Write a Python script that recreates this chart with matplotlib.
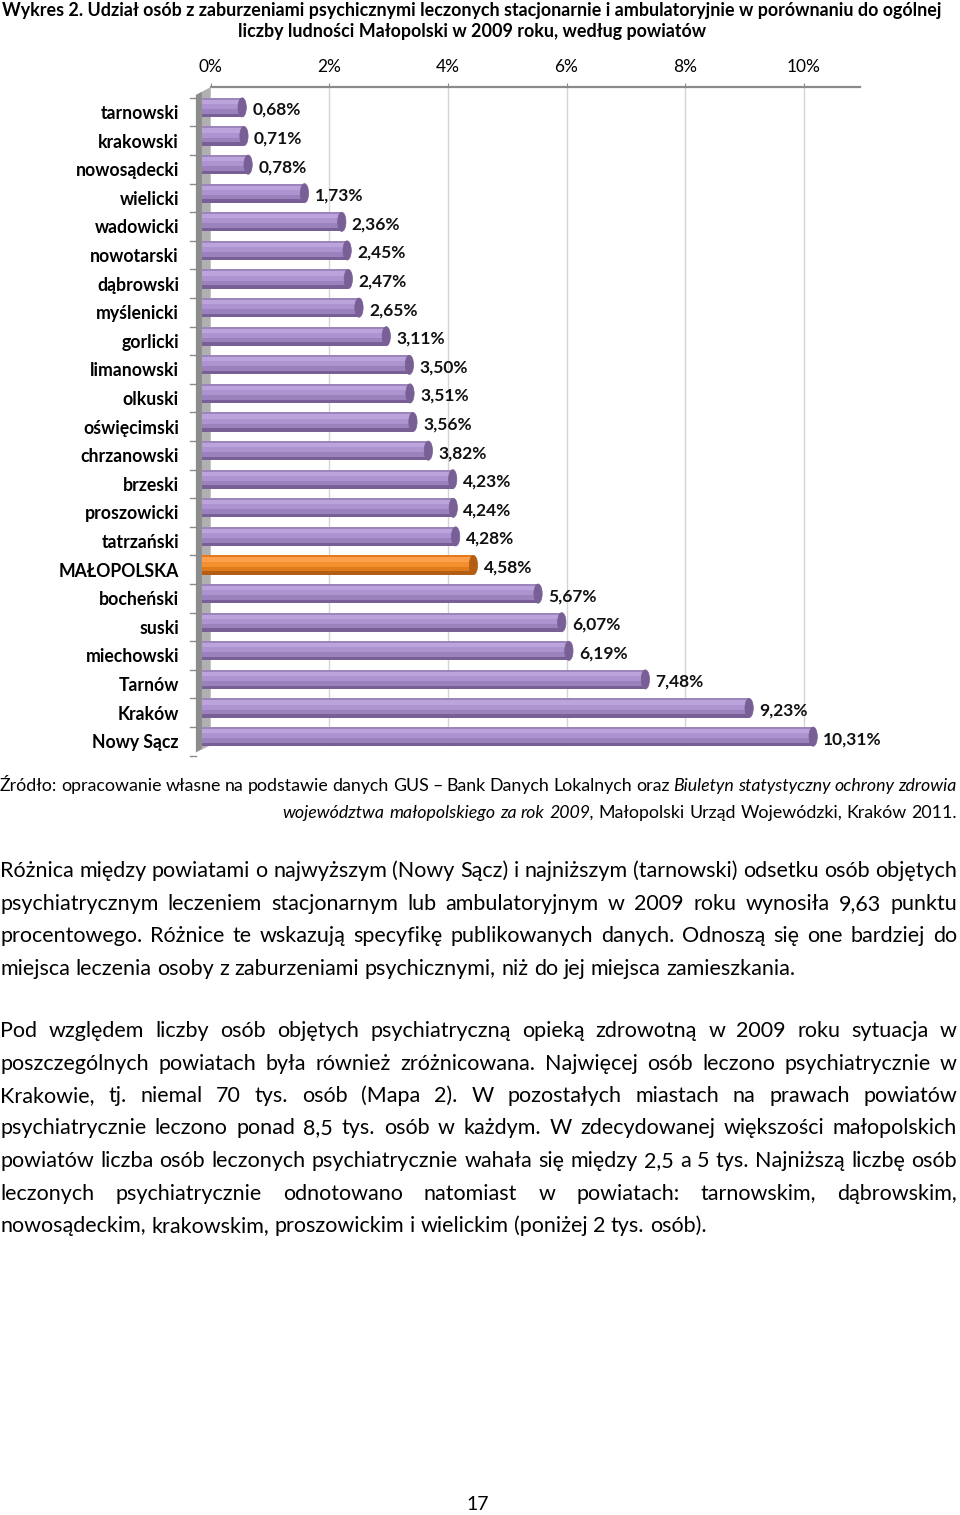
import matplotlib
matplotlib.use("Agg")
import matplotlib.pyplot as plt
from matplotlib.patches import Ellipse, Polygon
import numpy as np

plt.rcParams['font.family'] = ['Lato', 'DejaVu Sans']

# dane z wykresu (od góry do dołu)
powiaty = ['tarnowski', 'krakowski', 'nowosądecki', 'wielicki', 'wadowicki', 'nowotarski',
           'dąbrowski', 'myślenicki', 'gorlicki', 'limanowski', 'olkuski', 'oświęcimski',
           'chrzanowski', 'brzeski', 'proszowicki', 'tatrzański', 'MAŁOPOLSKA', 'bocheński',
           'suski', 'miechowski', 'Tarnów', 'Kraków', 'Nowy Sącz']
udzial = [0.68, 0.71, 0.78, 1.73, 2.36, 2.45, 2.47, 2.65, 3.11, 3.50, 3.51, 3.56, 3.82,
          4.23, 4.24, 4.28, 4.58, 5.67, 6.07, 6.19, 7.48, 9.23, 10.31]
x_ticks = [0, 2, 4, 6, 8, 10]
wyroznione = 'MAŁOPOLSKA'

W, H = 960, 1515
fig = plt.figure(figsize=(W / 100, H / 100), dpi=100)


def px_box(left, top, right, bottom):
    return [left / W, 1 - bottom / H, (right - left) / W, (bottom - top) / H]


# --- wykres ---
X0, X1 = -0.2, 11.1
Y_TOP, Y_BOT = -0.874, 22.45
ax = fig.add_axes(px_box(190, 112 + Y_TOP * 28.6, 860, 112 + Y_BOT * 28.6))
ax.set_xlim(X0, X1)
ax.set_ylim(Y_BOT, Y_TOP)
for s in ax.spines.values():
    s.set_visible(False)

depth = 0.15  # przesunięcie tylnej ściany
wall_top_front, wall_bot_front = -0.594, 22.38
wall_top_back, wall_bot_back = Y_TOP, 22.13

# siatka i górna oś
for t in x_ticks[1:]:
    ax.plot([t + depth, t + depth], [wall_top_back, wall_bot_back], color='#d4d4d4', lw=1, zorder=1)
ax.plot([depth, X1], [Y_TOP, Y_TOP], color='#8a8a8a', lw=1.6, zorder=2, clip_on=False)

# ściana boczna
ax.add_patch(Polygon([[-0.1, wall_top_front], [depth, wall_top_back], [depth, wall_bot_back],
                      [-0.1, wall_bot_front]], closed=True, facecolor='#b0b0b0',
                     edgecolor='none', zorder=2))
ax.add_patch(Polygon([[-0.1, wall_top_front], [0.0, wall_top_front - 0.11],
                      [0.0, wall_bot_front - 0.11], [-0.1, wall_bot_front]], closed=True,
                     facecolor='#8c8c8c', edgecolor='none', zorder=2))
ax.plot([-0.1, depth, 1.0], [wall_bot_front, wall_bot_back, wall_bot_back],
        color='#e0e0e0', lw=0.8, zorder=1)
for i in range(len(powiaty) + 1):
    ax.plot([X0, -0.1], [i - 0.5, i - 0.5], color='#8a8a8a', lw=1, zorder=2, clip_on=False)

# słupki walcowe
h = 0.67
off = -0.16
stripes = [(0.00, 0.10, 0), (0.10, 0.32, 1), (0.32, 0.58, 2), (0.58, 0.82, 3), (0.82, 1.0, 4)]
purple = ['#9c84bd', '#bba3dc', '#ad93cf', '#9a82bd', '#785f96']
orange = ['#e47a1c', '#fca04c', '#f48f30', '#e07b1c', '#b35e12']
y_pos = np.arange(len(powiaty))
for i, (name, v) in enumerate(zip(powiaty, udzial)):
    cols = orange if name == wyroznione else purple
    yc = y_pos[i] + off
    top = yc - h / 2
    for a, b, c in stripes:
        ax.barh(top + (a + b) / 2 * h, v, height=(b - a) * h, left=0, color=cols[c],
                edgecolor='none', zorder=3)
    ax.add_patch(Ellipse((v, yc), 0.14, h, facecolor=cols[4], edgecolor=cols[4], lw=0.5, zorder=4))
    ax.text(v + 0.17, y_pos[i] - 0.07, f'{v:.2f}%'.replace('.', ','), va='center', ha='left',
            fontsize=12.5, fontweight='bold', color='#111111', zorder=5)

ax.set_yticks(y_pos)
ax.set_yticklabels(powiaty, fontsize=12.7, fontweight='bold')
ax.tick_params(axis='y', length=0, pad=8)

ax.xaxis.tick_top()
ax.set_xticks([t + depth for t in x_ticks])
ax.set_xticklabels([f'{t}%' for t in x_ticks], fontsize=12.5)
ax.tick_params(axis='x', length=3, color='#8a8a8a', pad=6)

# --- tytuł ---
fig.text(472 / W, 1 - 16 / H, 'Wykres 2. Udział osób z zaburzeniami psychicznymi leczonych stacjonarnie '
         'i ambulatoryjnie w porównaniu do ogólnej', ha='center', va='baseline', fontsize=12.9,
         fontweight='bold')
fig.text(472 / W, 1 - 37 / H, 'liczby ludności Małopolski w 2009 roku, według powiatów',
         ha='center', va='baseline', fontsize=12.9, fontweight='bold')

# --- tekst strony ---
renderer = fig.canvas.get_renderer()


def text_width(s, size, style):
    t = fig.text(0, 0, s, fontsize=size, style=style)
    w = t.get_window_extent(renderer).width
    t.remove()
    return w


def draw_line(runs, y, size, mode='justify', x_left=0, x_right=957):
    # y = linia bazowa w pikselach od góry
    words = []
    for txt, style in runs:
        for wd in txt.split():
            words.append((wd, style))
    widths = [text_width(wd, size, st) for wd, st in words]
    space = text_width('x x', size, 'normal') - text_width('xx', size, 'normal')
    if mode == 'justify' and len(words) > 1:
        space = (x_right - x_left - sum(widths)) / (len(words) - 1)
    x = x_left
    if mode == 'right':
        x = x_right - sum(widths) - space * (len(words) - 1)
    for (wd, st), w in zip(words, widths):
        fig.text(x / W, 1 - y / H, wd, fontsize=size, style=st, va='baseline', ha='left')
        x += w + space


src = 12.8
draw_line([('Źródło: opracowanie własne na podstawie danych GUS – Bank Danych Lokalnych oraz', 'normal'),
           ('Biuletyn statystyczny ochrony zdrowia', 'italic')], 791, src)
draw_line([('województwa małopolskiego za rok 2009,', 'italic'),
           ('Małopolski Urząd Wojewódzki, Kraków 2011.', 'normal')], 818, src, mode='right')

akapit1 = [
    'Różnica między powiatami o najwyższym (Nowy Sącz) i najniższym (tarnowski) odsetku osób objętych',
    'psychiatrycznym leczeniem stacjonarnym lub ambulatoryjnym w 2009 roku wynosiła 9,63 punktu',
    'procentowego. Różnice te wskazują specyfikę publikowanych danych. Odnoszą się one bardziej do',
    'miejsca leczenia osoby z zaburzeniami psychicznymi, niż do jej miejsca zamieszkania.',
]
akapit2 = [
    'Pod względem liczby osób objętych psychiatryczną opieką zdrowotną w 2009 roku sytuacja w',
    'poszczególnych powiatach była również zróżnicowana. Najwięcej osób leczono psychiatrycznie w',
    'Krakowie, tj. niemal 70 tys. osób (Mapa 2). W pozostałych miastach na prawach powiatów',
    'psychiatrycznie leczono ponad 8,5 tys. osób w każdym. W zdecydowanej większości małopolskich',
    'powiatów liczba osób leczonych psychiatrycznie wahała się między 2,5 a 5 tys. Najniższą liczbę osób',
    'leczonych psychiatrycznie odnotowano natomiast w powiatach: tarnowskim, dąbrowskim,',
    'nowosądeckim, krakowskim, proszowickim i wielickim (poniżej 2 tys. osób).',
]
body = 15.5
for k, line in enumerate(akapit1):
    draw_line([(line, 'normal')], 877 + k * 32.6, body,
              mode='justify' if k < len(akapit1) - 1 else 'left')
for k, line in enumerate(akapit2):
    draw_line([(line, 'normal')], 1037 + k * 32.5, body,
              mode='justify' if k < len(akapit2) - 1 else 'left')

fig.text(478 / W, 1 - 1510 / H, '17', ha='center', va='baseline', fontsize=14)

fig.savefig('out.png', dpi=100)
